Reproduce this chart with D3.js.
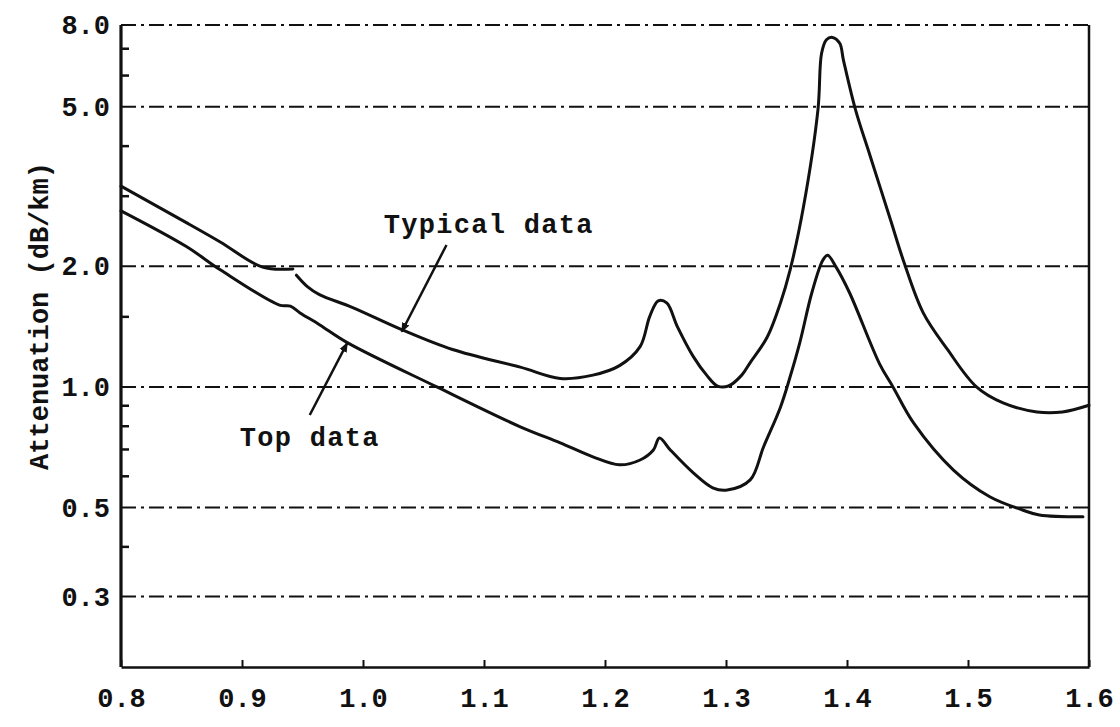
<!DOCTYPE html>
<html>
<head>
<meta charset="utf-8">
<script src="https://cdn.jsdelivr.net/npm/d3@7"></script>
<style>
  html, body { margin: 0; padding: 0; background: #fff; }
  svg { display: block; }
  text { font-family: "Liberation Mono", "DejaVu Sans Mono", monospace; fill: #111; }
</style>
</head>
<body>
<svg id="chart" width="1120" height="727"></svg>
<script>
// ---- data ----
const xTicks = [0.8, 0.9, 1.0, 1.1, 1.2, 1.3, 1.4, 1.5, 1.6];
const yTickLabels = [8.0, 5.0, 2.0, 1.0, 0.5, 0.3];
const yGrid = [8.0, 5.0, 2.0, 1.0, 0.5, 0.3];
const yMinorTicks = [7, 6, 4, 3, 1.5, 0.9, 0.8, 0.7, 0.6, 0.4];

// Typical data (null = small break in the trace near 0.94 um)
const typicalWavelength = [0.80, 0.854, 0.882, 0.917, 0.942, 0.9435, 0.945, 0.954, 0.964, 0.991, 1.032, 1.074, 1.130, 1.163, 1.190, 1.212, 1.229, 1.237, 1.244, 1.251, 1.260, 1.273, 1.284, 1.293, 1.302, 1.313, 1.320, 1.334, 1.345, 1.353, 1.364, 1.376, 1.379, 1.383, 1.388, 1.394, 1.397, 1.407, 1.419, 1.436, 1.447, 1.463, 1.483, 1.507, 1.529, 1.557, 1.578, 1.600];
const typicalAttenuation = [3.17, 2.57, 2.30, 1.99, 1.97, null, 1.90, 1.78, 1.70, 1.58, 1.39, 1.24, 1.12, 1.05, 1.07, 1.13, 1.26, 1.50, 1.64, 1.62, 1.41, 1.19, 1.07, 1.005, 1.005, 1.07, 1.15, 1.33, 1.62, 1.96, 2.81, 4.92, 6.8, 7.35, 7.45, 7.2, 6.55, 4.92, 3.78, 2.61, 2.05, 1.53, 1.24, 1.0, 0.912, 0.866, 0.866, 0.90];

// Top data
const topWavelength = [0.80, 0.854, 0.882, 0.931, 0.940, 0.948, 0.964, 0.987, 1.061, 1.130, 1.163, 1.190, 1.212, 1.229, 1.240, 1.245, 1.254, 1.273, 1.289, 1.301, 1.320, 1.331, 1.345, 1.353, 1.361, 1.371, 1.380, 1.384, 1.391, 1.402, 1.427, 1.438, 1.455, 1.488, 1.518, 1.545, 1.559, 1.595];
const topAttenuation = [2.75, 2.24, 1.96, 1.60, 1.59, 1.53, 1.43, 1.29, 1.0, 0.795, 0.725, 0.669, 0.639, 0.657, 0.696, 0.746, 0.696, 0.61, 0.56, 0.553, 0.586, 0.708, 0.89, 1.06, 1.29, 1.72, 2.07, 2.13, 1.99, 1.72, 1.14, 1.0, 0.813, 0.62, 0.532, 0.493, 0.479, 0.474];

// annotations
const annotationLabels = ["Typical data", "Top data"];
const annotationAt = [[1.104, 2.42], [0.956, 0.712]];
const arrowFrom = [[1.069, 2.26], [0.956, 0.851]];
const arrowTo = [[1.032, 1.373], [0.987, 1.288]];

const yTitle = "Attenuation (dB/km)";

// ---- drawing ----
const svg = d3.select("#chart");
const x = d3.scaleLinear().domain([0.8, 1.6]).range([121, 1089]);
const y = d3.scaleLog().domain([0.2, 8]).range([667, 25]);
const FS = 27;

svg.append("rect").attr("width", 1120).attr("height", 727).attr("fill", "#fff");

// gridlines (dash-dot)
svg.append("g").selectAll("line").data(yGrid).join("line")
  .attr("x1", x(0.8)).attr("x2", x(1.6))
  .attr("y1", d => y(d)).attr("y2", d => y(d))
  .attr("stroke", "#111").attr("stroke-width", 2)
  .attr("stroke-dasharray", "15,5,3,5");

// bottom axis
const xAxis = svg.append("g").attr("transform", `translate(0,${y(0.2)})`)
  .call(d3.axisBottom(x).tickValues(xTicks).tickFormat(d3.format(".1f"))
    .tickSize(-7).tickSizeOuter(0).tickPadding(21));
xAxis.select(".domain").attr("stroke", "#111").attr("stroke-width", 2.5);
xAxis.selectAll(".tick line").attr("stroke", "#111").attr("stroke-width", 2);
xAxis.selectAll(".tick text").attr("font-size", FS).attr("font-weight", "bold")
  .attr("font-family", "Liberation Mono, monospace").attr("fill", "#111");

// left axis labels
const yAxis = svg.append("g").attr("transform", `translate(${x(0.8)},0)`)
  .call(d3.axisLeft(y).tickValues(yTickLabels).tickFormat(d3.format(".1f"))
    .tickSize(0).tickSizeOuter(0).tickPadding(11));
yAxis.select(".domain").remove();
yAxis.selectAll(".tick text").attr("font-size", FS).attr("font-weight", "bold")
  .attr("font-family", "Liberation Mono, monospace").attr("fill", "#111");

// left minor ticks (inward)
const yMinor = svg.append("g").attr("transform", `translate(${x(0.8)},0)`)
  .call(d3.axisLeft(y).tickValues(yMinorTicks).tickFormat("").tickSize(-8).tickSizeOuter(0));
yMinor.select(".domain").remove();
yMinor.selectAll(".tick line").attr("stroke", "#111").attr("stroke-width", 2.5);

// frame: left and right solid
svg.append("line").attr("x1", x(0.8)).attr("x2", x(0.8)).attr("y1", y(8)).attr("y2", y(0.2))
  .attr("stroke", "#111").attr("stroke-width", 3.2);
svg.append("line").attr("x1", x(1.6)).attr("x2", x(1.6)).attr("y1", y(8)).attr("y2", y(0.2))
  .attr("stroke", "#111").attr("stroke-width", 2.5);

// curves
const line = d3.line()
  .defined(d => d[1] !== null)
  .x(d => x(d[0])).y(d => y(d[1]))
  .curve(d3.curveCatmullRom.alpha(0.5));

const typicalSeries = typicalWavelength.map((w, i) => [w, typicalAttenuation[i]]);
const topSeries = topWavelength.map((w, i) => [w, topAttenuation[i]]);

[typicalSeries, topSeries].forEach(s => {
  svg.append("path").datum(s).attr("d", line)
    .attr("fill", "none").attr("stroke", "#111").attr("stroke-width", 3)
    .attr("stroke-linejoin", "round").attr("stroke-linecap", "round");
});

// arrows
svg.append("defs").append("marker").attr("id", "ah")
  .attr("viewBox", "0 0 10 10").attr("refX", 9).attr("refY", 5)
  .attr("markerWidth", 4).attr("markerHeight", 4).attr("orient", "auto")
  .append("path").attr("d", "M0,1 L10,5 L0,9 Z").attr("fill", "#111");

svg.append("g").selectAll("line").data(arrowFrom).join("line")
  .attr("x1", d => x(d[0])).attr("y1", d => y(d[1]))
  .attr("x2", (d, i) => x(arrowTo[i][0])).attr("y2", (d, i) => y(arrowTo[i][1]))
  .attr("stroke", "#111").attr("stroke-width", 2.5)
  .attr("marker-end", "url(#ah)");

// annotation labels
svg.append("g").selectAll("text").data(annotationLabels).join("text")
  .attr("x", (d, i) => x(annotationAt[i][0]))
  .attr("y", (d, i) => y(annotationAt[i][1]))
  .attr("text-anchor", "middle")
  .attr("font-size", FS).attr("font-weight", "bold")
  .attr("letter-spacing", 1.3)
  .text(d => d);

// y title
svg.append("text")
  .attr("transform", "translate(41,316) rotate(-90)")
  .attr("text-anchor", "middle").attr("dominant-baseline", "central")
  .attr("font-size", FS).attr("font-weight", "bold")
  .text(yTitle);
</script>
</body>
</html>
